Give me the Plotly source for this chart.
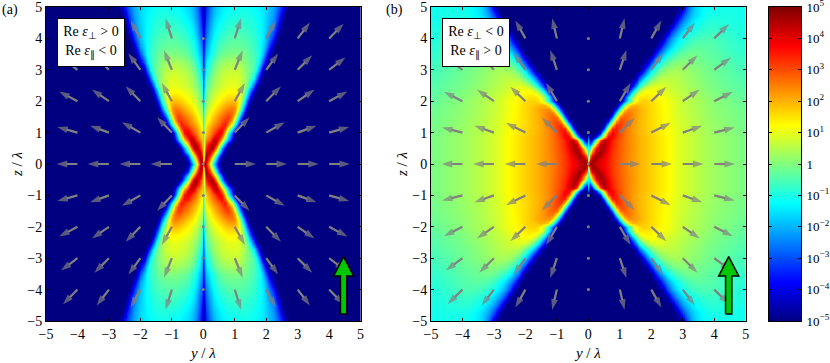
import plotly.graph_objects as go

# all field values are log10 of the colour scale (upper right quadrant)
Z_ROWS = [0, .125, .25, .375, .5, .625, .75, .875, 1, 1.125, 1.25, 1.375, 1.5, 1.625, 1.75, 1.875, 2, 2.125, 2.25,
          2.375, 2.5, 2.75, 3, 3.25, 3.5, 3.75, 4, 4.25, 4.5, 4.75, 5]

Y_A = [0, .04, .1, .2, .3, .4, .5, .6, .7, .8, .9, 1, 1.1, 1.2, 1.3, 1.4, 1.5, 1.6, 1.7, 1.8, 1.9,
       2, 2.1, 2.2, 2.3, 2.4, 2.5, 2.6, 2.7, 2.8, 5]

# rows stop where the navy starts
FIELD_A = [
    [5, 4.6, 3.8, 1.2, -1, -3, -4.6],
    [0, 4.3, 4.4, 2.2, 0, -2, -4],
    [-.6, 3.6, 4.7, 3.2, 1.3, -.8, -3, -4.6],
    [-.7, 3, 4.3, 4.3, 2.8, 1, -1.2, -3.2, -4.8],
    [-.8, 2.4, 3.4, 4.6, 4.5, 2.5, 0, -2.2, -4],
    [-.8, 2.1, 3, 4, 4.6, 4, 1.9, -.3, -2.3, -4.1],
    [-.8, 1.9, 2.4, 3.1, 4.2, 4.5, 3.2, 1.6, -.4, -2.2, -4],
    [-.9, 1.7, 2.1, 2.7, 3.5, 4.2, 3.9, 2.6, .7, -1.5, -3.4, -5],
    [-.9, 1.5, 1.8, 2.4, 2.9, 3.4, 4, 3.6, 1.8, -.6, -2.8, -4.8],
    [-1, 1.2, 1.6, 2.2, 2.6, 3, 3.5, 3.7, 2.9, 1, -1.1, -3.1, -4.9],
    [-1, 1, 1.4, 1.9, 2.3, 2.6, 2.9, 3.3, 3.6, 2.4, .8, -1.2, -3.2, -4.8],
    [-1.1, .8, 1.2, 1.6, 2, 2.3, 2.6, 3, 3.3, 3.1, 2, 0, -2, -3.9],
    [-1.2, .6, 1, 1.4, 1.8, 2.1, 2.4, 2.7, 3, 3.2, 2.6, 1.2, -.9, -2.8, -4.6],
    [-1.4, .4, .7, 1.2, 1.55, 1.85, 2.1, 2.4, 2.65, 2.85, 2.7, 2, .1, -1.7, -3.6],
    [-1.6, .2, .5, 1, 1.3, 1.6, 1.8, 2.1, 2.3, 2.5, 2.6, 2.3, 1.1, -.6, -2.6, -4.4],
    [-1.8, -.05, .3, .8, 1.1, 1.35, 1.55, 1.8, 2, 2.15, 2.25, 2.1, 1.4, 0, -1.7, -3.6],
    [-2, -.3, .1, .6, .9, 1.1, 1.3, 1.5, 1.7, 1.8, 1.9, 1.9, 1.5, .5, -.9, -2.8, -4.4],
    [-2.2, -.5, -.05, .45, .75, .95, 1.15, 1.3, 1.45, 1.55, 1.6, 1.6, 1.35, .7, -.4, -2, -3.6],
    [-2.4, -.7, -.2, .3, .6, .8, 1, 1.1, 1.2, 1.3, 1.35, 1.35, 1.2, .8, 0, -1.2, -2.9, -4.5],
    [-2.7, -.9, -.35, .15, .45, .65, .85, .95, 1.05, 1.15, 1.18, 1.18, 1.05, .75, .2, -.7, -2.1, -3.7],
    [-3, -1.1, -.5, 0, .3, .5, .7, .8, .9, 1, 1, 1, .9, .7, .4, -.2, -1.3, -3, -4.5],
    [-3.2, -1.4, -.8, -.2, .15, .4, .55, .7, .8, .85, .9, .9, .85, .7, .4, .05, -.4, -1.3, -2.8, -4.3],
    [-3.5, -1.8, -1.2, -.55, -.15, .15, .35, .5, .6, .65, .7, .7, .65, .5, .3, .05, -.2, -.6, -1.4, -2.8, -4.4],
    [-3.8, -2.1, -1.5, -.85, -.45, -.15, .05, .2, .3, .35, .4, .4, .35, .25, .1, -.05, -.3, -.5, -.9, -1.6, -2.9, -4.2],
    [-4, -2.4, -1.9, -1.3, -.9, -.6, -.35, -.2, -.1, -.05, 0, 0, 0, -.05, -.1, -.25, -.4, -.6, -.8, -1.2, -1.9, -3, -4.2],
    [-4.3, -2.7, -2.2, -1.5, -1.1, -.8, -.6, -.45, -.35, -.3, -.25, -.25, -.25, -.3, -.35, -.4, -.55, -.7, -.9, -1.2, -1.6, -2.2, -3.2, -4.3],
    [-4.5, -3, -2.5, -1.8, -1.35, -1.05, -.85, -.7, -.6, -.5, -.45, -.4, -.4, -.45, -.5, -.55, -.65, -.8, -.95, -1.15, -1.45, -1.9, -2.5, -3.3, -4.4],
    [-4.7, -3.3, -2.8, -2, -1.55, -1.25, -1.05, -.9, -.8, -.7, -.65, -.6, -.6, -.6, -.65, -.7, -.8, -.9, -1.05, -1.2, -1.45, -1.8, -2.2, -2.8, -3.6, -4.6],
    [-4.8, -3.6, -3, -2.2, -1.75, -1.45, -1.25, -1.1, -1, -.9, -.85, -.8, -.8, -.8, -.8, -.85, -.9, -1, -1.1, -1.25, -1.45, -1.7, -2, -2.4, -3, -3.9, -4.8],
    [-5, -3.8, -3.2, -2.4, -1.95, -1.65, -1.45, -1.3, -1.2, -1.1, -1.05, -1, -1, -.95, -.95, -1, -1.05, -1.1, -1.2, -1.3, -1.45, -1.65, -1.9, -2.2, -2.7, -3.3, -4.2],
    [-5, -4, -3.4, -2.6, -2.1, -1.8, -1.6, -1.45, -1.35, -1.25, -1.2, -1.15, -1.15, -1.1, -1.1, -1.1, -1.15, -1.2, -1.3, -1.4, -1.5, -1.65, -1.85, -2.1, -2.5, -2.9, -3.5, -4.3],
]

Y_B = [0, .04, .125, .25, .375, .5, .625, .75, .875, 1, 1.125, 1.25, 1.375, 1.5, 1.625, 1.75, 1.875, 2,
       2.125, 2.25, 2.375, 2.5, 2.625, 2.75, 2.875, 3, 3.125, 3.25, 3.375, 3.5, 3.75, 4, 4.5, 5]

# far field from y=1.5 outwards, these hardly change with z close to the axis
FAR_B = [2.15, 2, 1.9, 1.8, 1.7, 1.6, 1.5, 1.4, 1.3, 1.2, 1.05, .95, .85, .77, .7, .62, .55, .42, .3, .12, -.05]
FAR_B1 = [2.1, 1.95, 1.85, 1.75, 1.65, 1.55, 1.45, 1.35, 1.25, 1.15, 1, .9, .8, .72, .65, .57, .5, .37, .25, .08, -.1]

# rows are right aligned, whatever is missing on the left is navy
FIELD_B = [
    [5, 4.9, 4.6, 4.2, 4, 3.8, 3.5, 3.2, 3, 2.8, 2.6, 2.4, 2.25] + FAR_B,
    [0, 3.8, 4.7, 4.5, 4.1, 3.85, 3.55, 3.25, 3, 2.8, 2.6, 2.4, 2.25] + FAR_B,
    [-.5, 2.5, 3.9, 4.7, 4.5, 4, 3.6, 3.25, 3.02, 2.82, 2.6, 2.42, 2.27] + FAR_B,
    [-.8, 1, 2.5, 4.3, 4.7, 4.3, 3.7, 3.3, 3.05, 2.83, 2.62, 2.43, 2.28] + FAR_B,
    [-1.2, -1, 1.5, 3.6, 4.5, 4.5, 3.85, 3.4, 3.1, 2.85, 2.63, 2.44, 2.28] + FAR_B,
    [-1.5, -3, -1.5, 2, 4.2, 4.6, 4, 3.45, 3.12, 2.87, 2.64, 2.44, 2.28] + FAR_B,
    [-2, -4.4, -3.5, -.5, 2.8, 4.4, 4.1, 3.5, 3.15, 2.9, 2.65, 2.45, 2.28] + FAR_B,
    [-3, -5, -5, -3.5, -1, 1.8, 3.9, 3.8, 3.3, 2.95, 2.68, 2.45, 2.27] + FAR_B,
    [-3.8, -.1, 2.9, 3.8, 3.4, 3, 2.7, 2.45, 2.25] + FAR_B1,
    [-2.8, 1, 3.4, 3.5, 3.1, 2.75, 2.45, 2.25] + FAR_B1,
    [-4.5, -1.4, 1.7, 3.3, 3.2, 2.85, 2.55, 2.3, 2.1, 1.95, 1.85, 1.72, 1.62, 1.52, 1.42, 1.32, 1.22, 1.12, .98, .87, .77, .69, .62, .54, .47, .34, .22, .05, -.12],
    [-3.7, -.5, 2.2, 3.05, 2.9, 2.6, 2.35, 2.15, 1.97, 1.85, 1.72, 1.61, 1.51, 1.41, 1.31, 1.21, 1.1, .97, .86, .76, .68, .6, .52, .45, .32, .2, .03, -.13],
    [-2.8, .7, 2.6, 2.85, 2.65, 2.4, 2.2, 2, 1.85, 1.72, 1.6, 1.5, 1.4, 1.3, 1.2, 1.08, .95, .84, .74, .66, .59, .51, .44, .31, .18, .02, -.15],
    [-4.5, -1.6, 1.2, 2.5, 2.6, 2.4, 2.2, 2.03, 1.87, 1.73, 1.61, 1.5, 1.39, 1.28, 1.18, 1.06, .93, .82, .72, .64, .57, .49, .42, .29, .16, 0, -.18],
    [-3.6, -.9, 1.5, 2.35, 2.3, 2.2, 2.05, 1.88, 1.74, 1.62, 1.5, 1.38, 1.27, 1.17, 1.05, .92, .8, .7, .62, .55, .47, .4, .27, .14, -.02, -.2],
    [-3, -.6, 1.4, 1.95, 2, 1.9, 1.78, 1.7, 1.6, 1.48, 1.37, 1.27, 1.17, 1.05, .92, .8, .69, .61, .53, .46, .39, .26, .12, -.05, -.25],
    [-3, -1.2, .4, 1.3, 1.6, 1.7, 1.65, 1.55, 1.45, 1.35, 1.25, 1.15, 1.04, .92, .8, .68, .6, .52, .45, .38, .25, .1, -.07, -.3],
    [-3.6, -1.6, -.1, 1.1, 1.45, 1.5, 1.5, 1.42, 1.35, 1.25, 1.15, 1.05, .95, .84, .73, .62, .54, .46, .39, .32, .19, .05, -.12, -.34],
    [-3.1, -1.2, .1, .9, 1.25, 1.32, 1.3, 1.22, 1.13, 1.05, .95, .85, .76, .67, .58, .5, .42, .35, .28, .14, 0, -.18, -.38],
    [-4.5, -2.7, -1.2, 0, .7, 1.05, 1.15, 1.1, 1.02, .94, .85, .76, .68, .6, .52, .44, .37, .3, .23, .09, -.04, -.23, -.42],
    [-3.8, -2.3, -1, -.1, .5, .85, .95, .95, .88, .8, .72, .64, .56, .48, .4, .32, .25, .18, .04, -.08, -.27, -.45],
    [-4.5, -3, -1.9, -1, -.3, .15, .45, .55, .6, .6, .55, .48, .4, .33, .25, .18, .1, -.04, -.14, -.34, -.52],
    [-3.9, -2.6, -1.5, -.8, -.3, .05, .25, .35, .38, .38, .33, .26, .18, .1, .04, -.08, -.18, -.4, -.6],
    [-4.5, -3.2, -2.1, -1.3, -.8, -.4, -.15, 0, .08, .1, .08, .02, -.04, -.1, -.2, -.28, -.5, -.7],
    [-3.7, -2.6, -1.9, -1.3, -.9, -.6, -.4, -.25, -.15, -.12, -.15, -.2, -.3, -.36, -.6, -.8],
    [-4.2, -3.1, -2.3, -1.7, -1.3, -1, -.75, -.58, -.45, -.38, -.35, -.38, -.45, -.7, -.87],
    [-4.5, -3.2, -2.4, -1.8, -1.4, -1.1, -.9, -.75, -.65, -.58, -.52, -.55, -.75, -.95],
    [-4.7, -3.4, -2.6, -2, -1.6, -1.3, -1.1, -.95, -.85, -.72, -.7, -.85, -1],
    [-3.8, -2.9, -2.2, -1.8, -1.5, -1.25, -1.1, -.9, -.85, -.95, -1.05],
    [-4.1, -3.1, -2.4, -1.9, -1.6, -1.4, -1.1, -1, -1, -1.1],
    [-4.2, -3, -2.2, -1.7, -1.45, -1.2, -1.1, -1.05, -1.1],
]

# gray arrows: how far each one reaches from its grid point, rows z=0..4, columns |y|=1..4
ARROW_Y = [1, 2, 3, 4]
ARROW_Z = [0, 1, 2, 3, 4]
A_DY = [[.68, .66, .67, .66], [.47, .59, .6, .64], [.32, .47, .54, .58], [.25, .38, .46, .52], [.2, .31, .39, .46]]
A_DZ = [[0, 0, 0, 0], [.49, .33, .22, .18], [.58, .48, .37, .31], [.62, .52, .46, .39], [.64, .57, .51, .47]]
B_DY = [[.66, .66, .66, .66], [.48, .62, .62, .65], [.34, .48, .54, .59], [.21, .38, .47, .53], [.15, .32, .39, .47]]
B_DZ = [[0, 0, 0, 0], [.48, .31, .22, .16], [.58, .46, .37, .3], [.63, .53, .46, .39], [.64, .57, .51, .46]]
DOT_Z = [-4, -3, -2, -1, 0, 1, 2, 3, 4]

# green arrow outline
GREEN_Y = [4.36, 4.36, 4.14, 4.46, 4.78, 4.56, 4.56, 4.36]
GREEN_Z = [-4.78, -3.57, -3.57, -2.95, -3.57, -3.57, -4.78, -4.78]

LEVELS = [-5, -4, -3, -2, -1, 0, 1, 2, 3, 4, 5]
LEVEL_TEXT = ["10<sup>−5</sup>", "10<sup>−4</sup>", "10<sup>−3</sup>", "10<sup>−2</sup>", "10<sup>−1</sup>", "1",
              "10<sup>1</sup>", "10<sup>2</sup>", "10<sup>3</sup>", "10<sup>4</sup>", "10<sup>5</sup>"]
AXIS_TICKS = [-5, -4, -3, -2, -1, 0, 1, 2, 3, 4, 5]
TICK_TEXT = ["−5", "−4", "−3", "−2", "−1", "0", "1", "2", "3", "4", "5"]

JET = [[0, "rgb(0,0,128)"], [.125, "rgb(0,0,255)"], [.375, "rgb(0,255,255)"],
       [.625, "rgb(255,255,0)"], [.875, "rgb(255,0,0)"], [1, "rgb(128,0,0)"]]

W = 830
H = 363
SERIF = "Liberation Serif"
GRAY = "#808080"


def mirror_axis(vals):
    return [-v for v in reversed(vals[1:])] + vals


def full_field(rows, n, left):
    out = []
    for row in rows:
        if left:
            r = [-5] * (n - len(row)) + row
        else:
            r = row + [-5] * (n - len(row))
        out.append(list(reversed(r[1:])) + r)
    return list(reversed(out[1:])) + out


def arrow_lines(dy_tab, dz_tab):
    xs = []
    ys = []
    sizes = []
    for i, z in enumerate(ARROW_Z):
        for zsign in ([1] if z == 0 else [1, -1]):
            for j, y in enumerate(ARROW_Y):
                for ysign in [1, -1]:
                    xs += [ysign * y, ysign * (y + dy_tab[i][j]), None]
                    ys += [zsign * z, zsign * (z + dz_tab[i][j]), None]
                    sizes += [0, 11, 0]
    return xs, ys, sizes


def panel(fig, y_vals, field, dy_tab, dz_tab, xa, ya):
    fig.add_trace(go.Heatmap(x=mirror_axis(y_vals), y=mirror_axis(Z_ROWS), z=field, zmin=-5, zmax=5,
                             colorscale=JET, zsmooth="best", showscale=False, xaxis=xa, yaxis=ya))
    xs, ys, sizes = arrow_lines(dy_tab, dz_tab)
    fig.add_trace(go.Scatter(x=xs, y=ys, mode="lines+markers", line=dict(color=GRAY, width=2.2),
                             marker=dict(symbol="arrow", angleref="previous", size=sizes, color=GRAY, line=dict(width=0)),
                             showlegend=False, xaxis=xa, yaxis=ya))
    fig.add_trace(go.Scatter(x=[0] * len(DOT_Z), y=DOT_Z, mode="markers", marker=dict(size=3, color=GRAY),
                             showlegend=False, xaxis=xa, yaxis=ya))
    fig.add_trace(go.Scatter(x=GREEN_Y, y=GREEN_Z, mode="lines", fill="toself", fillcolor="#00c800",
                             line=dict(color="black", width=1.5), showlegend=False, xaxis=xa, yaxis=ya))


fig = go.Figure()
panel(fig, Y_A, full_field(FIELD_A, len(Y_A), False), A_DY, A_DZ, "x", "y")
panel(fig, Y_B, full_field(FIELD_B, len(Y_B), True), B_DY, B_DZ, "x2", "y2")
fig.add_trace(go.Heatmap(x=[0, 1], y=LEVELS, z=[[v, v] for v in LEVELS], zmin=-5, zmax=5, colorscale=JET,
                         zsmooth="best", showscale=False, xaxis="x3", yaxis="y3"))

common = dict(range=[-5, 5], tickvals=AXIS_TICKS, ticktext=TICK_TEXT, ticks="inside", ticklen=3, tickwidth=1,
              tickcolor="black", showline=True, linecolor="black", linewidth=1, mirror="allticks", showgrid=False,
              zeroline=False, automargin=False, ticklabeloverflow="allow",
              tickfont=dict(family=SERIF, size=14, color="black"))
top = 1 - 7 / H
bottom = 1 - 321 / H
title_font = dict(family=SERIF, size=15, color="black")


def ax_title(text, gap):
    return dict(text=text, font=title_font, standoff=gap)


fig.update_layout(
    width=W, height=H, margin=dict(l=0, r=0, t=0, b=0), paper_bgcolor="white", plot_bgcolor="white",
    showlegend=False,
    xaxis=dict(common, domain=[46 / W, 360.6 / W], anchor="y", title=ax_title("<i>y</i> / <i>λ</i>", 6)),
    yaxis=dict(common, domain=[bottom, top], anchor="x", title=ax_title("<i>z</i> / <i>λ</i>", 1)),
    xaxis2=dict(common, domain=[431 / W, 745.7 / W], anchor="y2", title=ax_title("<i>y</i> / <i>λ</i>", 6)),
    yaxis2=dict(common, domain=[bottom, top], anchor="x2", title=ax_title("<i>z</i> / <i>λ</i>", 1)),
    xaxis3=dict(domain=[769 / W, 801 / W], anchor="y3", range=[0, 1], showticklabels=False, ticks="", automargin=False,
                showline=True, linecolor="black", linewidth=1, mirror=True, showgrid=False, zeroline=False),
    yaxis3=dict(domain=[bottom, top], anchor="x3", side="right", range=[-5, 5], tickvals=LEVELS, ticktext=LEVEL_TEXT,
                ticks="inside", ticklen=3, tickwidth=1, tickcolor="black", showline=True, linecolor="black", linewidth=1,
                mirror="allticks", showgrid=False, zeroline=False, ticklabelstandoff=2, automargin=False,
                ticklabeloverflow="allow", tickfont=dict(family=SERIF, size=13, color="black")),
)


def box(x_px, text):
    return dict(xref="paper", yref="paper", x=x_px / W, y=1 - 18 / H, xanchor="left", yanchor="top", text=text,
                showarrow=False, align="center", width=66, height=47, bgcolor="white", bordercolor="black", borderwidth=1,
                borderpad=0, font=dict(family=SERIF, size=14, color="black"))


def label(x_px, text):
    return dict(xref="paper", yref="paper", x=x_px / W, y=1 - 0 / H, xanchor="left", yanchor="top", text=text,
                showarrow=False, font=dict(family=SERIF, size=14, color="black"))


fig.update_layout(annotations=[
    box(57, "Re <i>ε</i><sub>⊥</sub> &gt; 0<br>Re <i>ε</i><sub>∥</sub> &lt; 0"),
    box(442, "Re <i>ε</i><sub>⊥</sub> &lt; 0<br>Re <i>ε</i><sub>∥</sub> &gt; 0"),
    label(0, "(a)"),
    label(384, "(b)"),
])

fig.write_html("out.html", config=dict(displayModeBar=False),
               post_script="document.body.style.margin='0';document.body.style.overflow='hidden';")
